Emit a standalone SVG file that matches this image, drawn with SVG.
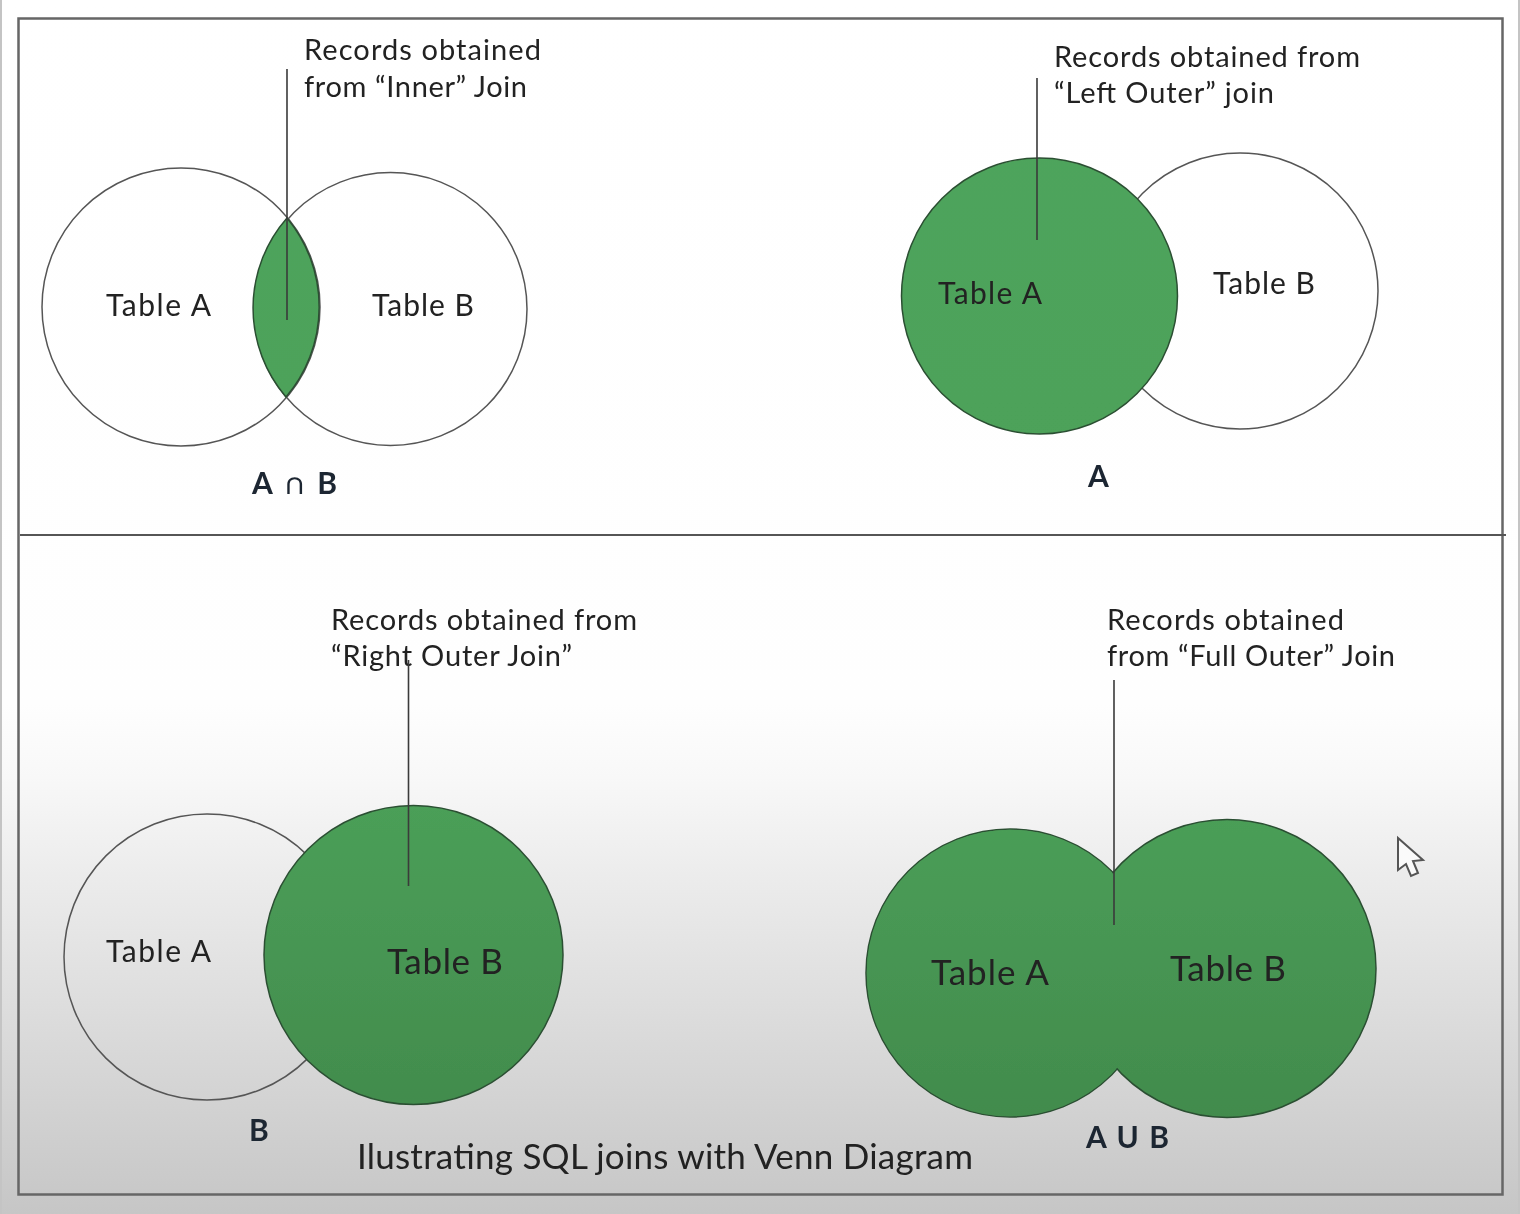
<svg xmlns="http://www.w3.org/2000/svg" width="1520" height="1214" viewBox="0 0 1520 1214">
<defs>
<linearGradient id="bg" x1="0" y1="0" x2="0" y2="1214" gradientUnits="userSpaceOnUse">
<stop offset="0" stop-color="#ffffff"/><stop offset="0.58" stop-color="#fefefe"/><stop offset="0.64" stop-color="#f8f8f8"/><stop offset="0.72" stop-color="#ececec"/><stop offset="1" stop-color="#c6c6c6"/>
</linearGradient>
<linearGradient id="green" x1="0" y1="0" x2="0" y2="1214" gradientUnits="userSpaceOnUse">
<stop offset="0" stop-color="#4fa55c"/><stop offset="0.66" stop-color="#4b9f58"/><stop offset="1" stop-color="#3f8549"/>
</linearGradient>
<filter id="soft" x="0" y="0" width="1" height="1"><feGaussianBlur stdDeviation="0.6"/></filter>
</defs>
<style>
.open{fill:none;stroke:#555;stroke-width:1.5}
.fill{fill:url(#green);stroke:#2c4f33;stroke-width:1.5}
.conn{stroke:#3a3a3a;stroke-width:1.6;fill:none}
text{font-family:"Lato","Open Sans",sans-serif;fill:#222}
.note{font-size:29px}
.tbl{font-size:30px}
.big{font-size:35px}
.res{font-size:30px;font-weight:700;fill:#1c2530}
</style>
<g filter="url(#soft)">
<rect x="0" y="0" width="1520" height="1214" fill="#c4c4c4"/>
<rect x="2" y="0" width="1516" height="1214" fill="url(#bg)"/>
<rect id="frame" x="18.500" y="18.500" width="1484" height="1176" fill="none" stroke="#666" stroke-width="2.500"/>
<line id="divider" x1="20" y1="535" x2="1506" y2="535" stroke="#555" stroke-width="1.800"/>

<g id="inner-join">
<circle class="open" cx="181" cy="307" r="139"/>
<circle class="open" cx="390.500" cy="309" r="136.500"/>
<path class="fill" d="M287 218 A136.500 136.500 0 0 0 286 397 A139 139 0 0 0 287 218 Z"/>
<text class="tbl" x="106" y="316" textLength="105">Table A</text>
<text class="tbl" x="372" y="316" textLength="102">Table B</text>
<text class="note" x="304" y="60" textLength="237">Records obtained</text>
<text class="note" x="304" y="97" textLength="223">from “Inner” Join</text>
<text class="res" x="252" y="494" textLength="85">A ∩ B</text>
</g>

<g id="left-join">
<circle class="open" cx="1240" cy="291" r="138"/>
<circle class="fill" cx="1039.500" cy="296" r="138"/>
<text class="tbl" x="938" y="304" textLength="104">Table A</text>
<text class="tbl" x="1213" y="294" textLength="102">Table B</text>
<text class="note" x="1054" y="67" textLength="306">Records obtained from</text>
<text class="note" x="1054" y="103" textLength="220">“Left Outer” join</text>
<text class="res" x="1088" y="487">A</text>
</g>

<g id="right-join">
<circle class="open" cx="207" cy="957" r="143"/>
<circle class="fill" cx="413.500" cy="955" r="149.500"/>
<text class="tbl" x="106" y="962" textLength="105">Table A</text>
<text class="big" x="387" y="974" textLength="116">Table B</text>
<text class="note" x="331" y="630" textLength="306">Records obtained from</text>
<text class="note" x="331" y="666" textLength="241">“Right Outer Join”</text>
<text class="res" x="249" y="1141">B</text>
</g>

<g id="full-join">
<circle class="fill" cx="1010" cy="973" r="144"/>
<circle class="fill" cx="1227" cy="968.500" r="149"/>
<circle cx="1010" cy="973" r="143.200" fill="url(#green)"/>
<text class="big" x="931" y="985" textLength="118">Table A</text>
<text class="big" x="1170" y="981" textLength="116">Table B</text>
<text class="note" x="1107" y="630" textLength="237">Records obtained</text>
<text class="note" x="1107" y="666" textLength="288">from “Full Outer” Join</text>
<text class="res" x="1086" y="1148" textLength="83">A U B</text>
</g>

<g id="connectors">
<line class="conn" x1="287" y1="69" x2="287" y2="320"/>
<line class="conn" x1="1037" y1="78" x2="1037" y2="240"/>
<line class="conn" x1="408.500" y1="660" x2="408.500" y2="886"/>
<line class="conn" x1="1114" y1="680" x2="1114" y2="925"/>
</g>

<text id="caption" x="357" y="1169" font-size="35" textLength="616">Ilustrating SQL joins with Venn Diagram</text>
<path id="cursor" d="M1398 838 L1398 870 L1406 864 L1411 876 L1418 873 L1413 861 L1423 860 Z" fill="#fafafa" stroke="#555" stroke-width="2"/>
</g>
</svg>
